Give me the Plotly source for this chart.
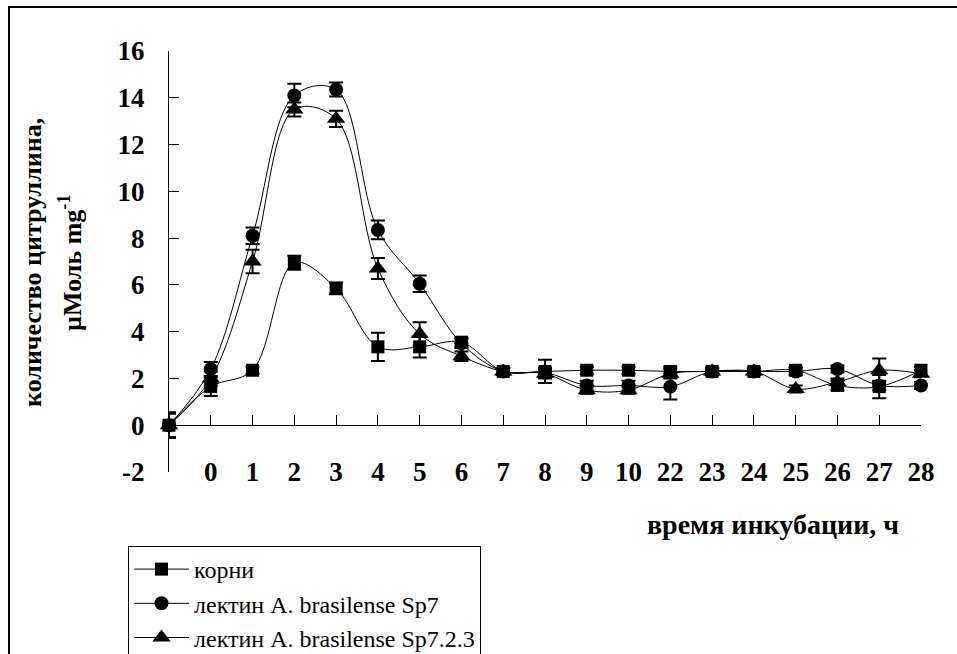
import plotly.graph_objects as go

categories = ["", "0", "1", "2", "3", "4", "5", "6", "7", "8", "9", "10",
              "22", "23", "24", "25", "26", "27", "28"]

roots = [0, 1.65, 2.35, 6.95, 5.85, 3.35, 3.35, 3.55, 2.3, 2.3, 2.35, 2.35,
         2.3, 2.3, 2.3, 2.35, 1.7, 1.65, 2.35]
roots_err = [0.55, 0.4, 0.15, 0.3, 0.25, 0.6, 0.45, 0.2, 0.15, 0.5, 0.15, 0.15,
             0.2, 0.15, 0.15, 0.15, 0.2, 0.5, 0.15]

sp7 = [0, 2.4, 8.1, 14.1, 14.35, 8.35, 6.05, 3.5, 2.3, 2.25, 1.7, 1.7,
       1.65, 2.3, 2.3, 2.3, 2.4, 1.7, 1.7]
sp7_err = [0.5, 0.3, 0.35, 0.5, 0.3, 0.4, 0.35, 0.2, 0.15, 0.2, 0.2, 0.2,
           0.55, 0.15, 0.15, 0.15, 0.15, 0.2, 0.15]

sp723 = [0, 2.0, 7.0, 13.5, 13.1, 6.7, 3.9, 2.95, 2.3, 2.2, 1.5, 1.5,
         2.2, 2.3, 2.3, 1.55, 1.85, 2.35, 2.2]
sp723_err = [0.5, 0.3, 0.5, 0.3, 0.35, 0.45, 0.5, 0.2, 0.15, 0.2, 0.15, 0.15,
             0.2, 0.15, 0.15, 0.15, 0.15, 0.5, 0.15]

series_names = ["корни", "лектин A. brasilense Sp7", "лектин A. brasilense Sp7.2.3"]
y_ticks = [-2, 0, 2, 4, 6, 8, 10, 12, 14, 16]
y_tick_labels = ["-2", "0", "2", "4", "6", "8", "10", "12", "14", "16"]

x_idx = list(range(len(categories)))

# layout geometry (pixels)
W, H = 957, 654
L, R, T, B = 169, 921, 51, 472
pw, ph = R - L, B - T

def px_x(p):
    return (p - L) / pw

def px_y(p):
    return (B - p) / ph

SERIF = "Liberation Serif"

fig = go.Figure()
specs = [
    (roots, roots_err, "square", 13),
    (sp7, sp7_err, "circle", 14),
    (sp723, sp723_err, "triangle-up", 16),
]
for name, (vals, errs, sym, size) in zip(series_names, specs):
    fig.add_trace(go.Scatter(
        x=x_idx, y=vals, name=name, mode="lines+markers",
        line=dict(color="black", width=1, shape="spline", smoothing=1),
        marker=dict(symbol=sym, size=size, color="black"),
        error_y=dict(type="data", array=errs, color="black", thickness=2, width=7),
        cliponaxis=False,
    ))

fig.update_layout(
    width=W, height=H,
    margin=dict(l=L, r=W - R, t=T, b=H - B, autoexpand=False),
    paper_bgcolor="white", plot_bgcolor="white",
    font=dict(family=SERIF, color="black"),
    showlegend=True,
    legend=dict(
        x=px_x(128), y=px_y(546), xanchor="left", yanchor="top",
        bgcolor="white", bordercolor="black", borderwidth=1,
        font=dict(family=SERIF, size=24, color="black"),
        tracegroupgap=0, itemwidth=55,
    ),
    xaxis=dict(
        range=[0, len(categories) - 1], tickvals=x_idx, ticktext=categories,
        anchor="free", position=2 / 18,
        showline=True, linecolor="black", linewidth=1,
        ticks="inside", ticklen=10, tickcolor="black", tickwidth=1,
        showgrid=False, zeroline=False,
        tickfont=dict(family=SERIF, size=27, weight="bold", color="black"),
        ticklabelstandoff=22,
    ),
    yaxis=dict(
        range=[-2, 16], tickvals=y_ticks, ticktext=y_tick_labels,
        showline=True, linecolor="black", linewidth=1,
        ticks="inside", ticklen=10, tickcolor="black", tickwidth=1,
        showgrid=False, zeroline=False,
        tickfont=dict(family=SERIF, size=27, weight="bold", color="black"),
        ticklabelstandoff=18,
    ),
    annotations=[
        dict(text="количество цитруллина,", x=px_x(32), y=px_y(263),
             xref="paper", yref="paper", textangle=-90, showarrow=False,
             xanchor="center", yanchor="middle",
             font=dict(family=SERIF, size=26, weight="bold", color="black")),
        dict(text="µМоль mg<sup>-1</sup>", x=px_x(70), y=px_y(263),
             xref="paper", yref="paper", textangle=-90, showarrow=False,
             xanchor="center", yanchor="middle",
             font=dict(family=SERIF, size=26, weight="bold", color="black")),
        dict(text="время инкубации, ч", x=px_x(773), y=px_y(524),
             xref="paper", yref="paper", showarrow=False,
             xanchor="center", yanchor="middle",
             font=dict(family=SERIF, size=28, weight="bold", color="black")),
    ],
    shapes=[
        dict(type="rect", xref="paper", yref="paper",
             x0=px_x(9), x1=px_x(1010), y0=px_y(710), y1=px_y(7),
             line=dict(color="black", width=2), fillcolor="rgba(0,0,0,0)",
             layer="below"),
    ],
)

fig.write_html(
    "out.html",
    config={"displayModeBar": False},
    post_script="document.body.style.margin='0';document.body.style.overflow='hidden';",
)
